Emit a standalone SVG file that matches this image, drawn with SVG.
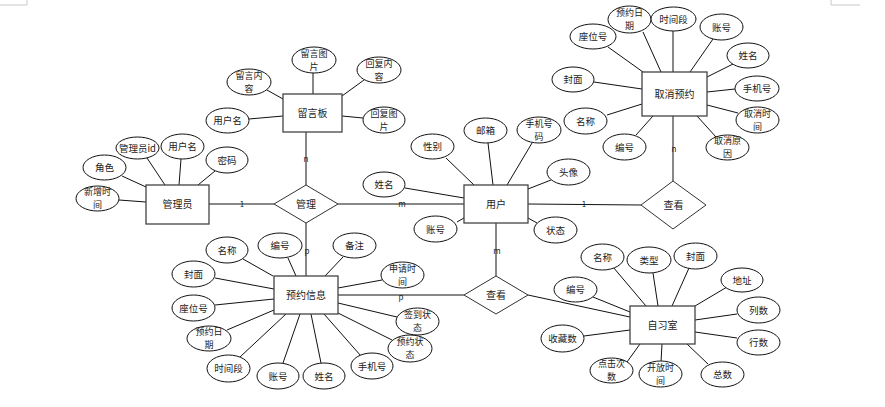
<svg xmlns="http://www.w3.org/2000/svg" width="885" height="407" viewBox="0 0 885 407">
<style>
text{font-family:"Noto Sans CJK SC","Liberation Sans",sans-serif;font-size:9.5px;fill:#222;text-anchor:middle}
.ent rect{fill:#fff;stroke:#444;stroke-width:1.3}
.rel polygon{fill:#fff;stroke:#333;stroke-width:1}
.att ellipse{fill:#fff;stroke:#111;stroke-width:1}
.ln line{stroke:#111;stroke-width:1}
.card{font-size:8px}
.et{font-size:10px}
.two{font-size:9px}
.mark{stroke:#c8c8c8;stroke-width:1;fill:none}
</style>
<rect x="0" y="0" width="885" height="407" fill="#fff"/>
<path class="mark" d="M0 5H27V0"/>
<path class="mark" d="M831 0V5H860"/>
<g id="connectors" class="ln">
<line x1="209" y1="204" x2="274" y2="204"/>
<line x1="338" y1="204" x2="464" y2="204"/>
<line x1="306" y1="132" x2="306" y2="185"/>
<line x1="306" y1="223" x2="306" y2="276"/>
<line x1="528" y1="204" x2="641" y2="205"/>
<line x1="673" y1="116" x2="673" y2="181"/>
<line x1="496" y1="223" x2="496" y2="276"/>
<line x1="338" y1="295" x2="464" y2="295"/>
<line x1="528" y1="295" x2="630" y2="317"/>
<line x1="147" y1="158" x2="165" y2="185"/>
<line x1="181" y1="159" x2="179" y2="185"/>
<line x1="215" y1="171" x2="198" y2="185"/>
<line x1="122" y1="176" x2="146" y2="187"/>
<line x1="119" y1="200" x2="146" y2="202"/>
<line x1="313" y1="73" x2="313" y2="94"/>
<line x1="267" y1="90" x2="283" y2="99"/>
<line x1="249" y1="119" x2="283" y2="116"/>
<line x1="342" y1="96" x2="364" y2="80"/>
<line x1="342" y1="116" x2="363" y2="118"/>
<line x1="446" y1="158" x2="474" y2="185"/>
<line x1="488" y1="143" x2="493" y2="185"/>
<line x1="532" y1="143" x2="507" y2="185"/>
<line x1="551" y1="180" x2="528" y2="189"/>
<line x1="405" y1="188" x2="464" y2="198"/>
<line x1="457" y1="222" x2="464" y2="218"/>
<line x1="528" y1="218" x2="537" y2="223"/>
<line x1="608" y1="47" x2="643" y2="72"/>
<line x1="643" y1="32" x2="661" y2="72"/>
<line x1="673" y1="31" x2="673" y2="72"/>
<line x1="713" y1="39" x2="690" y2="72"/>
<line x1="735" y1="63" x2="707" y2="77"/>
<line x1="735" y1="89" x2="707" y2="92"/>
<line x1="738" y1="113" x2="707" y2="105"/>
<line x1="716" y1="137" x2="697" y2="116"/>
<line x1="636" y1="135" x2="653" y2="116"/>
<line x1="607" y1="115" x2="642" y2="104"/>
<line x1="594" y1="82" x2="642" y2="89"/>
<line x1="243" y1="259" x2="273" y2="276"/>
<line x1="288" y1="258" x2="296" y2="276"/>
<line x1="343" y1="257" x2="325" y2="276"/>
<line x1="215" y1="278" x2="274" y2="289"/>
<line x1="215" y1="305" x2="274" y2="299"/>
<line x1="227" y1="330" x2="274" y2="310"/>
<line x1="240" y1="357" x2="286" y2="314"/>
<line x1="283" y1="363" x2="300" y2="314"/>
<line x1="321" y1="363" x2="311" y2="314"/>
<line x1="361" y1="356" x2="324" y2="314"/>
<line x1="392" y1="340" x2="338" y2="313"/>
<line x1="397" y1="317" x2="338" y2="303"/>
<line x1="382" y1="280" x2="338" y2="288"/>
<line x1="613" y1="267" x2="646" y2="306"/>
<line x1="653" y1="273" x2="658" y2="306"/>
<line x1="689" y1="268" x2="672" y2="306"/>
<line x1="727" y1="287" x2="695" y2="306"/>
<line x1="737" y1="314" x2="695" y2="320"/>
<line x1="737" y1="338" x2="695" y2="332"/>
<line x1="708" y1="364" x2="687" y2="344"/>
<line x1="661" y1="362" x2="662" y2="344"/>
<line x1="627" y1="362" x2="640" y2="344"/>
<line x1="584" y1="336" x2="630" y2="330"/>
<line x1="593" y1="297" x2="630" y2="312"/>
<text class="card" x="242" y="207">1</text>
<text class="card" x="402" y="207">m</text>
<text class="card" x="306" y="162">n</text>
<text class="card" x="307" y="254">p</text>
<text class="card" x="584" y="207">1</text>
<text class="card" x="674" y="152">n</text>
<text class="card" x="497" y="254">m</text>
<text class="card" x="401" y="300">p</text>
</g>
<g id="guanliyuan" class="ent"><rect x="146" y="185" width="63" height="39"/><text class="et" x="177.5" y="208">管理员</text></g>
<g id="liuyanban" class="ent"><rect x="283" y="94" width="59" height="38"/><text class="et" x="312.5" y="116.5">留言板</text></g>
<g id="yonghu" class="ent"><rect x="464" y="185" width="64" height="38"/><text class="et" x="496" y="207.5">用户</text></g>
<g id="quxiaoyuyue" class="ent"><rect x="642" y="72" width="65" height="44"/><text class="et" x="674.5" y="97.5">取消预约</text></g>
<g id="yuyuexinxi" class="ent"><rect x="274" y="276" width="64" height="38"/><text class="et" x="306" y="298.5">预约信息</text></g>
<g id="zixishi" class="ent"><rect x="630" y="306" width="65" height="38"/><text class="et" x="662.5" y="328.5">自习室</text></g>
<g id="guanli" class="rel"><polygon points="274,204 306,185 338,204 306,223"/><text class="et" x="306" y="207.5">管理</text></g>
<g id="chakan1" class="rel"><polygon points="641,205 673,181 706,205 673,229"/><text class="et" x="673.5" y="208.5">查看</text></g>
<g id="chakan2" class="rel"><polygon points="464,295 496,276 528,295 496,314"/><text class="et" x="496" y="298.5">查看</text></g>
<g id="a-gly-id" class="att"><ellipse cx="137.5" cy="148" rx="21.5" ry="11"/><text x="137.5" y="151.5">管理员id</text></g>
<g id="a-gly-yhm" class="att"><ellipse cx="182.5" cy="146.5" rx="21.5" ry="12.5"/><text x="182.5" y="150">用户名</text></g>
<g id="a-gly-mm" class="att"><ellipse cx="227" cy="160" rx="21" ry="13"/><text x="227" y="163.5">密码</text></g>
<g id="a-gly-js" class="att"><ellipse cx="104.5" cy="167.5" rx="21.5" ry="12.5"/><text x="104.5" y="171">角色</text></g>
<g id="a-gly-xzsj" class="att"><ellipse cx="97.5" cy="198.5" rx="21.5" ry="12.5"/><text class="two" x="97.5" y="195.2">新增时<tspan x="97.5" dy="13">间</tspan></text></g>
<g id="a-lyb-lytp" class="att"><ellipse cx="314" cy="60" rx="22" ry="13"/><text class="two" x="314" y="56.7">留言图<tspan x="314" dy="13">片</tspan></text></g>
<g id="a-lyb-lynr" class="att"><ellipse cx="249" cy="82" rx="22" ry="13"/><text class="two" x="249" y="78.7">留言内<tspan x="249" dy="13">容</tspan></text></g>
<g id="a-lyb-yhm" class="att"><ellipse cx="227.5" cy="120.5" rx="21.5" ry="12.5"/><text x="227.5" y="124">用户名</text></g>
<g id="a-lyb-hfnr" class="att"><ellipse cx="379" cy="70" rx="22" ry="13"/><text class="two" x="379" y="66.7">回复内<tspan x="379" dy="13">容</tspan></text></g>
<g id="a-lyb-hftp" class="att"><ellipse cx="384" cy="120" rx="21" ry="13"/><text class="two" x="384" y="116.7">回复图<tspan x="384" dy="13">片</tspan></text></g>
<g id="a-yh-xb" class="att"><ellipse cx="432.5" cy="146.5" rx="21.5" ry="12.5"/><text x="432.5" y="150">性别</text></g>
<g id="a-yh-yx" class="att"><ellipse cx="485.5" cy="130.5" rx="21.5" ry="12.5"/><text x="485.5" y="134">邮箱</text></g>
<g id="a-yh-sjhm" class="att"><ellipse cx="539" cy="130" rx="22" ry="13"/><text class="two" x="539" y="126.7">手机号<tspan x="539" dy="13">码</tspan></text></g>
<g id="a-yh-tx" class="att"><ellipse cx="568.5" cy="172" rx="21.5" ry="13"/><text x="568.5" y="175.5">头像</text></g>
<g id="a-yh-xm" class="att"><ellipse cx="384" cy="184.5" rx="21" ry="12.5"/><text x="384" y="188">姓名</text></g>
<g id="a-yh-zh" class="att"><ellipse cx="435.5" cy="229" rx="21.5" ry="13"/><text x="435.5" y="232.5">账号</text></g>
<g id="a-yh-zt" class="att"><ellipse cx="555.5" cy="230" rx="21.5" ry="13"/><text x="555.5" y="233.5">状态</text></g>
<g id="a-qx-zwh" class="att"><ellipse cx="593" cy="36.5" rx="23" ry="12.5"/><text x="593" y="40">座位号</text></g>
<g id="a-qx-yyrq" class="att"><ellipse cx="629.5" cy="19.5" rx="21.5" ry="13.5"/><text class="two" x="629.5" y="16.2">预约日<tspan x="629.5" dy="13">期</tspan></text></g>
<g id="a-qx-sjd" class="att"><ellipse cx="673.5" cy="19" rx="22.5" ry="12"/><text x="673.5" y="22.5">时间段</text></g>
<g id="a-qx-zh" class="att"><ellipse cx="721.5" cy="27" rx="21.5" ry="13"/><text x="721.5" y="30.5">账号</text></g>
<g id="a-qx-xm" class="att"><ellipse cx="748" cy="55.5" rx="21" ry="12.5"/><text x="748" y="59">姓名</text></g>
<g id="a-qx-sjh" class="att"><ellipse cx="757" cy="88.5" rx="22" ry="12.5"/><text x="757" y="92">手机号</text></g>
<g id="a-qx-qxsj" class="att"><ellipse cx="757.5" cy="120" rx="21.5" ry="13"/><text class="two" x="757.5" y="116.7">取消时<tspan x="757.5" dy="13">间</tspan></text></g>
<g id="a-qx-qxyy" class="att"><ellipse cx="727.5" cy="147.5" rx="21.5" ry="12.5"/><text class="two" x="727.5" y="144.2">取消原<tspan x="727.5" dy="13">因</tspan></text></g>
<g id="a-qx-bh" class="att"><ellipse cx="624.5" cy="147" rx="21.5" ry="13"/><text x="624.5" y="150.5">编号</text></g>
<g id="a-qx-mc" class="att"><ellipse cx="585.5" cy="121" rx="21.5" ry="13"/><text x="585.5" y="124.5">名称</text></g>
<g id="a-qx-fm" class="att"><ellipse cx="573" cy="79.5" rx="21" ry="12.5"/><text x="573" y="83">封面</text></g>
<g id="a-yy-mc" class="att"><ellipse cx="227" cy="250" rx="21" ry="13"/><text x="227" y="253.5">名称</text></g>
<g id="a-yy-bh" class="att"><ellipse cx="280" cy="245.5" rx="22" ry="12.5"/><text x="280" y="249">编号</text></g>
<g id="a-yy-bz" class="att"><ellipse cx="354.5" cy="245.5" rx="21.5" ry="12.5"/><text x="354.5" y="249">备注</text></g>
<g id="a-yy-fm" class="att"><ellipse cx="193.5" cy="274" rx="21.5" ry="13"/><text x="193.5" y="277.5">封面</text></g>
<g id="a-yy-zwh" class="att"><ellipse cx="193.5" cy="308" rx="21.5" ry="13"/><text x="193.5" y="311.5">座位号</text></g>
<g id="a-yy-yyrq" class="att"><ellipse cx="209" cy="338.5" rx="22" ry="12.5"/><text class="two" x="209" y="335.2">预约日<tspan x="209" dy="13">期</tspan></text></g>
<g id="a-yy-sjd" class="att"><ellipse cx="228.5" cy="368.5" rx="21.5" ry="13.5"/><text x="228.5" y="372">时间段</text></g>
<g id="a-yy-zh" class="att"><ellipse cx="278" cy="376" rx="21" ry="13"/><text x="278" y="379.5">账号</text></g>
<g id="a-yy-xm" class="att"><ellipse cx="324" cy="376" rx="21" ry="13"/><text x="324" y="379.5">姓名</text></g>
<g id="a-yy-sjh" class="att"><ellipse cx="372" cy="366" rx="21" ry="13"/><text x="372" y="369.5">手机号</text></g>
<g id="a-yy-yyzt" class="att"><ellipse cx="410" cy="348.5" rx="22" ry="13.5"/><text class="two" x="410" y="345.2">预约状<tspan x="410" dy="13">态</tspan></text></g>
<g id="a-yy-qdzt" class="att"><ellipse cx="417.5" cy="321.5" rx="21.5" ry="13.5"/><text class="two" x="417.5" y="318.2">签到状<tspan x="417.5" dy="13">态</tspan></text></g>
<g id="a-yy-sqsj" class="att"><ellipse cx="402.5" cy="275" rx="21.5" ry="13"/><text class="two" x="402.5" y="271.7">申请时<tspan x="402.5" dy="13">间</tspan></text></g>
<g id="a-zxs-mc" class="att"><ellipse cx="602.5" cy="257" rx="21.5" ry="13"/><text x="602.5" y="260.5">名称</text></g>
<g id="a-zxs-lx" class="att"><ellipse cx="649" cy="260" rx="22" ry="13"/><text x="649" y="263.5">类型</text></g>
<g id="a-zxs-fm" class="att"><ellipse cx="695.5" cy="256" rx="21.5" ry="13"/><text x="695.5" y="259.5">封面</text></g>
<g id="a-zxs-dz" class="att"><ellipse cx="742" cy="280" rx="21" ry="12"/><text x="742" y="283.5">地址</text></g>
<g id="a-zxs-ls" class="att"><ellipse cx="758.5" cy="310" rx="21.5" ry="13"/><text x="758.5" y="313.5">列数</text></g>
<g id="a-zxs-hs" class="att"><ellipse cx="758.5" cy="342.5" rx="21.5" ry="12.5"/><text x="758.5" y="346">行数</text></g>
<g id="a-zxs-zs" class="att"><ellipse cx="722.5" cy="374.5" rx="21.5" ry="12.5"/><text x="722.5" y="378">总数</text></g>
<g id="a-zxs-kfsj" class="att"><ellipse cx="660.5" cy="374" rx="21.5" ry="13"/><text class="two" x="660.5" y="370.7">开放时<tspan x="660.5" dy="13">间</tspan></text></g>
<g id="a-zxs-djcs" class="att"><ellipse cx="611.5" cy="370.5" rx="21.5" ry="12.5"/><text class="two" x="611.5" y="367.2">点击次<tspan x="611.5" dy="13">数</tspan></text></g>
<g id="a-zxs-scs" class="att"><ellipse cx="562.5" cy="338.5" rx="21.5" ry="13.5"/><text x="562.5" y="342">收藏数</text></g>
<g id="a-zxs-bh" class="att"><ellipse cx="575.5" cy="289.5" rx="21.5" ry="12.5"/><text x="575.5" y="293">编号</text></g>
</svg>
